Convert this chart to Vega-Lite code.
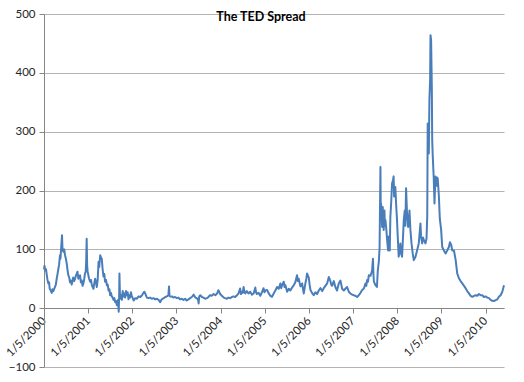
{
  "$schema": "https://vega.github.io/schema/vega-lite/v6.json",
  "autosize": {"type": "none"},
  "width": 460,
  "height": 353,
  "padding": {"left": 44, "top": 14, "right": 20, "bottom": 15},
  "background": "white",
  "config": {
    "view": {"stroke": null},
    "font": "Lato"
  },
  "title": {
    "text": "The TED Spread",
    "font": "Lato",
    "fontSize": 12.5,
    "fontWeight": "bold",
    "color": "black",
    "anchor": "middle",
    "dx": -13,
    "offset": -15
  },
  "data": {
    "values": [
      {"date": "2000-01-05", "ted": 66},
      {"date": "2000-01-09", "ted": 72},
      {"date": "2000-01-16", "ted": 64},
      {"date": "2000-01-22", "ted": 66},
      {"date": "2000-01-27", "ted": 58},
      {"date": "2000-02-03", "ted": 48},
      {"date": "2000-02-10", "ted": 42},
      {"date": "2000-02-16", "ted": 44},
      {"date": "2000-02-21", "ted": 33},
      {"date": "2000-03-01", "ted": 30},
      {"date": "2000-03-09", "ted": 26},
      {"date": "2000-03-15", "ted": 32},
      {"date": "2000-03-22", "ted": 29},
      {"date": "2000-04-05", "ted": 36},
      {"date": "2000-04-12", "ted": 40},
      {"date": "2000-04-19", "ted": 50},
      {"date": "2000-04-26", "ted": 58},
      {"date": "2000-05-03", "ted": 67},
      {"date": "2000-05-09", "ted": 74},
      {"date": "2000-05-16", "ted": 90},
      {"date": "2000-05-20", "ted": 84},
      {"date": "2000-05-25", "ted": 99},
      {"date": "2000-06-02", "ted": 124},
      {"date": "2000-06-06", "ted": 100},
      {"date": "2000-06-13", "ted": 96},
      {"date": "2000-06-20", "ted": 100},
      {"date": "2000-06-27", "ted": 90},
      {"date": "2000-07-04", "ted": 84},
      {"date": "2000-07-11", "ted": 76},
      {"date": "2000-07-18", "ted": 64},
      {"date": "2000-07-24", "ted": 56},
      {"date": "2000-08-01", "ted": 52},
      {"date": "2000-08-07", "ted": 44},
      {"date": "2000-08-14", "ted": 47},
      {"date": "2000-08-21", "ted": 40},
      {"date": "2000-08-28", "ted": 46},
      {"date": "2000-09-02", "ted": 52},
      {"date": "2000-09-10", "ted": 46},
      {"date": "2000-09-18", "ted": 50},
      {"date": "2000-09-24", "ted": 55},
      {"date": "2000-10-01", "ted": 58},
      {"date": "2000-10-08", "ted": 62},
      {"date": "2000-10-15", "ted": 50},
      {"date": "2000-10-22", "ted": 54},
      {"date": "2000-10-29", "ted": 56},
      {"date": "2000-11-05", "ted": 44},
      {"date": "2000-11-12", "ted": 47},
      {"date": "2000-11-19", "ted": 38},
      {"date": "2000-11-26", "ted": 42},
      {"date": "2000-12-03", "ted": 50},
      {"date": "2000-12-09", "ted": 59},
      {"date": "2000-12-15", "ted": 62},
      {"date": "2000-12-19", "ted": 80},
      {"date": "2000-12-23", "ted": 118},
      {"date": "2000-12-27", "ted": 72},
      {"date": "2000-12-31", "ted": 62},
      {"date": "2001-01-06", "ted": 56},
      {"date": "2001-01-12", "ted": 50},
      {"date": "2001-01-21", "ted": 45},
      {"date": "2001-01-28", "ted": 48},
      {"date": "2001-02-03", "ted": 40},
      {"date": "2001-02-10", "ted": 36},
      {"date": "2001-02-17", "ted": 33},
      {"date": "2001-02-24", "ted": 42},
      {"date": "2001-03-03", "ted": 50},
      {"date": "2001-03-10", "ted": 44},
      {"date": "2001-03-17", "ted": 36},
      {"date": "2001-03-24", "ted": 48},
      {"date": "2001-03-31", "ted": 79},
      {"date": "2001-04-06", "ted": 70},
      {"date": "2001-04-14", "ted": 90},
      {"date": "2001-04-20", "ted": 86},
      {"date": "2001-04-27", "ted": 84},
      {"date": "2001-05-04", "ted": 66},
      {"date": "2001-05-11", "ted": 54},
      {"date": "2001-05-18", "ted": 58},
      {"date": "2001-05-24", "ted": 45},
      {"date": "2001-06-01", "ted": 48},
      {"date": "2001-06-08", "ted": 39},
      {"date": "2001-06-15", "ted": 40},
      {"date": "2001-06-22", "ted": 30},
      {"date": "2001-06-29", "ted": 32},
      {"date": "2001-07-05", "ted": 22},
      {"date": "2001-07-12", "ted": 26},
      {"date": "2001-07-19", "ted": 20},
      {"date": "2001-07-26", "ted": 18},
      {"date": "2001-08-02", "ted": 14},
      {"date": "2001-08-09", "ted": 17},
      {"date": "2001-08-16", "ted": 10},
      {"date": "2001-08-23", "ted": 12},
      {"date": "2001-08-30", "ted": 5},
      {"date": "2001-09-08", "ted": 14},
      {"date": "2001-09-14", "ted": -6},
      {"date": "2001-09-18", "ted": 25},
      {"date": "2001-09-20", "ted": 59},
      {"date": "2001-09-25", "ted": 16},
      {"date": "2001-10-03", "ted": 22},
      {"date": "2001-10-10", "ted": 14},
      {"date": "2001-10-17", "ted": 29},
      {"date": "2001-10-24", "ted": 20},
      {"date": "2001-10-31", "ted": 25},
      {"date": "2001-11-06", "ted": 18},
      {"date": "2001-11-13", "ted": 29},
      {"date": "2001-11-20", "ted": 22},
      {"date": "2001-11-27", "ted": 27},
      {"date": "2001-12-04", "ted": 15},
      {"date": "2001-12-10", "ted": 22},
      {"date": "2001-12-17", "ted": 18},
      {"date": "2001-12-24", "ted": 27},
      {"date": "2001-12-31", "ted": 21},
      {"date": "2002-01-08", "ted": 17},
      {"date": "2002-01-16", "ted": 13},
      {"date": "2002-01-28", "ted": 17},
      {"date": "2002-02-11", "ted": 16},
      {"date": "2002-02-25", "ted": 20},
      {"date": "2002-03-12", "ted": 19},
      {"date": "2002-03-26", "ted": 22},
      {"date": "2002-04-06", "ted": 26},
      {"date": "2002-04-14", "ted": 28},
      {"date": "2002-04-21", "ted": 25},
      {"date": "2002-05-05", "ted": 18},
      {"date": "2002-05-18", "ted": 17},
      {"date": "2002-05-31", "ted": 18},
      {"date": "2002-06-15", "ted": 16},
      {"date": "2002-06-29", "ted": 17},
      {"date": "2002-07-13", "ted": 15},
      {"date": "2002-07-28", "ted": 16},
      {"date": "2002-08-10", "ted": 14},
      {"date": "2002-08-23", "ted": 10},
      {"date": "2002-09-05", "ted": 15},
      {"date": "2002-09-21", "ted": 17},
      {"date": "2002-10-05", "ted": 19},
      {"date": "2002-10-17", "ted": 20},
      {"date": "2002-10-30", "ted": 22},
      {"date": "2002-11-04", "ted": 37},
      {"date": "2002-11-08", "ted": 21},
      {"date": "2002-11-15", "ted": 19.6},
      {"date": "2002-11-28", "ted": 20},
      {"date": "2002-12-10", "ted": 18},
      {"date": "2002-12-24", "ted": 19},
      {"date": "2003-01-09", "ted": 17},
      {"date": "2003-01-22", "ted": 18},
      {"date": "2003-02-03", "ted": 15},
      {"date": "2003-02-18", "ted": 16},
      {"date": "2003-03-04", "ted": 14},
      {"date": "2003-03-18", "ted": 16},
      {"date": "2003-03-30", "ted": 13},
      {"date": "2003-04-14", "ted": 15},
      {"date": "2003-04-28", "ted": 17},
      {"date": "2003-05-12", "ted": 19},
      {"date": "2003-05-27", "ted": 23},
      {"date": "2003-06-10", "ted": 18},
      {"date": "2003-06-22", "ted": 17},
      {"date": "2003-07-03", "ted": 14},
      {"date": "2003-07-07", "ted": 8},
      {"date": "2003-07-12", "ted": 20},
      {"date": "2003-07-21", "ted": 22},
      {"date": "2003-08-03", "ted": 19},
      {"date": "2003-08-16", "ted": 18},
      {"date": "2003-08-30", "ted": 16},
      {"date": "2003-09-14", "ted": 17},
      {"date": "2003-09-27", "ted": 19},
      {"date": "2003-10-09", "ted": 22},
      {"date": "2003-10-23", "ted": 21},
      {"date": "2003-11-08", "ted": 24},
      {"date": "2003-11-22", "ted": 22},
      {"date": "2003-12-07", "ted": 25},
      {"date": "2003-12-18", "ted": 30.6},
      {"date": "2004-01-01", "ted": 24},
      {"date": "2004-01-15", "ted": 21},
      {"date": "2004-01-31", "ted": 18},
      {"date": "2004-02-12", "ted": 17},
      {"date": "2004-02-25", "ted": 16},
      {"date": "2004-03-10", "ted": 18},
      {"date": "2004-03-25", "ted": 17},
      {"date": "2004-04-07", "ted": 19},
      {"date": "2004-04-20", "ted": 20},
      {"date": "2004-05-05", "ted": 19},
      {"date": "2004-05-19", "ted": 22},
      {"date": "2004-06-01", "ted": 25},
      {"date": "2004-06-14", "ted": 33.5},
      {"date": "2004-06-21", "ted": 24},
      {"date": "2004-06-28", "ted": 28},
      {"date": "2004-07-06", "ted": 26},
      {"date": "2004-07-13", "ted": 36},
      {"date": "2004-07-20", "ted": 27},
      {"date": "2004-07-27", "ted": 25},
      {"date": "2004-08-08", "ted": 29},
      {"date": "2004-08-22", "ted": 25},
      {"date": "2004-09-06", "ted": 28},
      {"date": "2004-09-20", "ted": 23},
      {"date": "2004-10-04", "ted": 25},
      {"date": "2004-10-18", "ted": 35},
      {"date": "2004-10-24", "ted": 27},
      {"date": "2004-10-31", "ted": 24},
      {"date": "2004-11-14", "ted": 26},
      {"date": "2004-11-28", "ted": 21},
      {"date": "2004-12-12", "ted": 27},
      {"date": "2004-12-25", "ted": 34},
      {"date": "2005-01-02", "ted": 27},
      {"date": "2005-01-09", "ted": 30},
      {"date": "2005-01-23", "ted": 31},
      {"date": "2005-02-06", "ted": 25},
      {"date": "2005-02-20", "ted": 21},
      {"date": "2005-03-05", "ted": 19.3},
      {"date": "2005-03-19", "ted": 25},
      {"date": "2005-04-02", "ted": 30},
      {"date": "2005-04-16", "ted": 36},
      {"date": "2005-04-30", "ted": 33},
      {"date": "2005-05-13", "ted": 42},
      {"date": "2005-05-20", "ted": 34},
      {"date": "2005-05-27", "ted": 39},
      {"date": "2005-06-10", "ted": 45},
      {"date": "2005-06-17", "ted": 36},
      {"date": "2005-06-24", "ted": 39},
      {"date": "2005-07-08", "ted": 28},
      {"date": "2005-07-22", "ted": 33},
      {"date": "2005-08-04", "ted": 30},
      {"date": "2005-08-18", "ted": 35},
      {"date": "2005-09-01", "ted": 39},
      {"date": "2005-09-14", "ted": 44},
      {"date": "2005-09-28", "ted": 56},
      {"date": "2005-10-05", "ted": 46},
      {"date": "2005-10-12", "ted": 50},
      {"date": "2005-10-26", "ted": 37},
      {"date": "2005-11-09", "ted": 42},
      {"date": "2005-11-16", "ted": 33},
      {"date": "2005-11-23", "ted": 25},
      {"date": "2005-12-06", "ted": 42},
      {"date": "2005-12-14", "ted": 50},
      {"date": "2005-12-20", "ted": 59},
      {"date": "2006-01-03", "ted": 52},
      {"date": "2006-01-10", "ted": 40},
      {"date": "2006-01-17", "ted": 31},
      {"date": "2006-01-30", "ted": 26},
      {"date": "2006-02-13", "ted": 22},
      {"date": "2006-02-27", "ted": 27},
      {"date": "2006-03-13", "ted": 24},
      {"date": "2006-03-27", "ted": 30},
      {"date": "2006-04-10", "ted": 34},
      {"date": "2006-04-24", "ted": 29},
      {"date": "2006-05-07", "ted": 34},
      {"date": "2006-05-21", "ted": 38},
      {"date": "2006-06-04", "ted": 42},
      {"date": "2006-06-18", "ted": 53},
      {"date": "2006-07-01", "ted": 46},
      {"date": "2006-07-08", "ted": 40},
      {"date": "2006-07-15", "ted": 38},
      {"date": "2006-07-29", "ted": 46},
      {"date": "2006-08-11", "ted": 36},
      {"date": "2006-08-25", "ted": 30},
      {"date": "2006-09-08", "ted": 42},
      {"date": "2006-09-22", "ted": 47},
      {"date": "2006-10-06", "ted": 33},
      {"date": "2006-10-20", "ted": 30},
      {"date": "2006-11-02", "ted": 33},
      {"date": "2006-11-16", "ted": 36},
      {"date": "2006-11-30", "ted": 28},
      {"date": "2006-12-14", "ted": 25},
      {"date": "2006-12-28", "ted": 23},
      {"date": "2007-01-10", "ted": 22},
      {"date": "2007-01-24", "ted": 21},
      {"date": "2007-02-07", "ted": 19},
      {"date": "2007-02-21", "ted": 22},
      {"date": "2007-03-07", "ted": 26},
      {"date": "2007-03-21", "ted": 31},
      {"date": "2007-04-04", "ted": 33.5},
      {"date": "2007-04-17", "ted": 42},
      {"date": "2007-04-24", "ted": 38},
      {"date": "2007-05-01", "ted": 48},
      {"date": "2007-05-08", "ted": 45},
      {"date": "2007-05-15", "ted": 56},
      {"date": "2007-05-29", "ted": 55},
      {"date": "2007-06-11", "ted": 64},
      {"date": "2007-06-18", "ted": 84},
      {"date": "2007-06-22", "ted": 58},
      {"date": "2007-06-26", "ted": 45},
      {"date": "2007-07-09", "ted": 39},
      {"date": "2007-07-21", "ted": 36},
      {"date": "2007-07-28", "ted": 64},
      {"date": "2007-08-06", "ted": 80},
      {"date": "2007-08-12", "ted": 104},
      {"date": "2007-08-19", "ted": 240},
      {"date": "2007-08-22", "ted": 150},
      {"date": "2007-08-24", "ted": 178},
      {"date": "2007-08-29", "ted": 160},
      {"date": "2007-09-02", "ted": 138},
      {"date": "2007-09-07", "ted": 172},
      {"date": "2007-09-11", "ted": 150},
      {"date": "2007-09-15", "ted": 133},
      {"date": "2007-09-21", "ted": 166},
      {"date": "2007-09-25", "ted": 140},
      {"date": "2007-09-29", "ted": 150},
      {"date": "2007-10-07", "ted": 133},
      {"date": "2007-10-13", "ted": 116},
      {"date": "2007-10-21", "ted": 98},
      {"date": "2007-10-27", "ted": 122},
      {"date": "2007-11-04", "ted": 98},
      {"date": "2007-11-09", "ted": 155},
      {"date": "2007-11-16", "ted": 180},
      {"date": "2007-11-23", "ted": 212},
      {"date": "2007-12-01", "ted": 218},
      {"date": "2007-12-06", "ted": 224},
      {"date": "2007-12-10", "ted": 190},
      {"date": "2007-12-15", "ted": 201},
      {"date": "2007-12-20", "ted": 206},
      {"date": "2007-12-27", "ted": 175},
      {"date": "2008-01-03", "ted": 150},
      {"date": "2008-01-09", "ted": 122},
      {"date": "2008-01-17", "ted": 87.5},
      {"date": "2008-01-26", "ted": 98},
      {"date": "2008-01-31", "ted": 110},
      {"date": "2008-02-06", "ted": 93},
      {"date": "2008-02-14", "ted": 87.5},
      {"date": "2008-02-23", "ted": 127},
      {"date": "2008-02-28", "ted": 150},
      {"date": "2008-03-07", "ted": 166},
      {"date": "2008-03-12", "ted": 140},
      {"date": "2008-03-18", "ted": 204},
      {"date": "2008-03-26", "ted": 161},
      {"date": "2008-04-04", "ted": 138},
      {"date": "2008-04-10", "ted": 150},
      {"date": "2008-04-15", "ted": 166},
      {"date": "2008-04-23", "ted": 133},
      {"date": "2008-05-02", "ted": 110},
      {"date": "2008-05-12", "ted": 93},
      {"date": "2008-05-21", "ted": 81.6},
      {"date": "2008-06-04", "ted": 87.5},
      {"date": "2008-06-17", "ted": 98},
      {"date": "2008-07-01", "ted": 110},
      {"date": "2008-07-15", "ted": 144},
      {"date": "2008-07-20", "ted": 122},
      {"date": "2008-07-29", "ted": 110},
      {"date": "2008-08-05", "ted": 120},
      {"date": "2008-08-12", "ted": 116},
      {"date": "2008-08-25", "ted": 110},
      {"date": "2008-09-03", "ted": 118},
      {"date": "2008-09-09", "ted": 155},
      {"date": "2008-09-13", "ted": 314},
      {"date": "2008-09-17", "ted": 300},
      {"date": "2008-09-22", "ted": 263},
      {"date": "2008-09-27", "ted": 354},
      {"date": "2008-10-03", "ted": 388},
      {"date": "2008-10-06", "ted": 464},
      {"date": "2008-10-11", "ted": 456},
      {"date": "2008-10-17", "ted": 376},
      {"date": "2008-10-20", "ted": 286},
      {"date": "2008-10-25", "ted": 257},
      {"date": "2008-11-02", "ted": 220},
      {"date": "2008-11-08", "ted": 178},
      {"date": "2008-11-16", "ted": 224},
      {"date": "2008-11-24", "ted": 208},
      {"date": "2008-11-30", "ted": 222},
      {"date": "2008-12-05", "ted": 220},
      {"date": "2008-12-14", "ted": 192},
      {"date": "2008-12-22", "ted": 152},
      {"date": "2009-01-02", "ted": 133},
      {"date": "2009-01-11", "ted": 104},
      {"date": "2009-01-25", "ted": 98},
      {"date": "2009-02-08", "ted": 93},
      {"date": "2009-02-21", "ted": 98},
      {"date": "2009-03-07", "ted": 104},
      {"date": "2009-03-16", "ted": 112},
      {"date": "2009-03-27", "ted": 107},
      {"date": "2009-04-04", "ted": 98},
      {"date": "2009-04-18", "ted": 98},
      {"date": "2009-05-02", "ted": 82},
      {"date": "2009-05-15", "ted": 59},
      {"date": "2009-05-29", "ted": 51},
      {"date": "2009-06-12", "ted": 46},
      {"date": "2009-06-26", "ted": 42},
      {"date": "2009-07-10", "ted": 38},
      {"date": "2009-07-23", "ted": 34},
      {"date": "2009-08-06", "ted": 29},
      {"date": "2009-08-20", "ted": 25},
      {"date": "2009-09-03", "ted": 21},
      {"date": "2009-09-17", "ted": 19.3},
      {"date": "2009-10-01", "ted": 21},
      {"date": "2009-10-14", "ted": 22},
      {"date": "2009-10-28", "ted": 21},
      {"date": "2009-11-11", "ted": 24},
      {"date": "2009-11-25", "ted": 22},
      {"date": "2009-12-08", "ted": 22},
      {"date": "2009-12-22", "ted": 19},
      {"date": "2010-01-05", "ted": 20},
      {"date": "2010-01-19", "ted": 18},
      {"date": "2010-02-02", "ted": 17},
      {"date": "2010-02-15", "ted": 14},
      {"date": "2010-03-01", "ted": 12.5},
      {"date": "2010-03-15", "ted": 12},
      {"date": "2010-03-29", "ted": 13.6},
      {"date": "2010-04-12", "ted": 15},
      {"date": "2010-04-25", "ted": 19.3},
      {"date": "2010-05-09", "ted": 22},
      {"date": "2010-05-23", "ted": 28},
      {"date": "2010-06-06", "ted": 39}
    ]
  },
  "mark": {"type": "line", "color": "#4a7ebb", "strokeWidth": 2, "strokeJoin": "round"},
  "encoding": {
    "x": {
      "field": "date",
      "type": "temporal",
      "scale": {
        "type": "utc",
        "domain": [
          {"year": 2000, "month": 1, "date": 5, "utc": true},
          {"year": 2010, "month": 6, "date": 6, "utc": true}
        ],
        "nice": false
      },
      "axis": {
        "title": null,
        "offset": -59,
        "values": [
          {"year": 2000, "month": 1, "date": 5, "utc": true},
          {"year": 2001, "month": 1, "date": 5, "utc": true},
          {"year": 2002, "month": 1, "date": 5, "utc": true},
          {"year": 2003, "month": 1, "date": 5, "utc": true},
          {"year": 2004, "month": 1, "date": 5, "utc": true},
          {"year": 2005, "month": 1, "date": 5, "utc": true},
          {"year": 2006, "month": 1, "date": 5, "utc": true},
          {"year": 2007, "month": 1, "date": 5, "utc": true},
          {"year": 2008, "month": 1, "date": 5, "utc": true},
          {"year": 2009, "month": 1, "date": 5, "utc": true},
          {"year": 2010, "month": 1, "date": 5, "utc": true}
        ],
        "labelExpr": "utcFormat(datum.value, '%-m/%-d/%Y')",
        "labelAngle": -45,
        "labelAlign": "right",
        "labelBaseline": "middle",
        "labelPadding": 6,
        "labelFont": "Lato",
        "labelFontSize": 11.5,
        "labelColor": "#262626",
        "labelOverlap": false,
        "labelFlush": false,
        "grid": false,
        "domainColor": "#868686",
        "tickColor": "#868686",
        "tickSize": 5
      }
    },
    "y": {
      "field": "ted",
      "type": "quantitative",
      "scale": {"domain": [-100, 500], "nice": false, "zero": false},
      "axis": {
        "title": null,
        "values": [-100, 0, 100, 200, 300, 400, 500],
        "labelFont": "Lato",
        "labelFontSize": 11.5,
        "labelColor": "#262626",
        "labelPadding": 4,
        "tickSize": 5,
        "tickColor": "#868686",
        "domainColor": "#868686",
        "grid": true,
        "gridColor": "#b3b3b3",
        "gridWidth": 1
      }
    }
  }
}
